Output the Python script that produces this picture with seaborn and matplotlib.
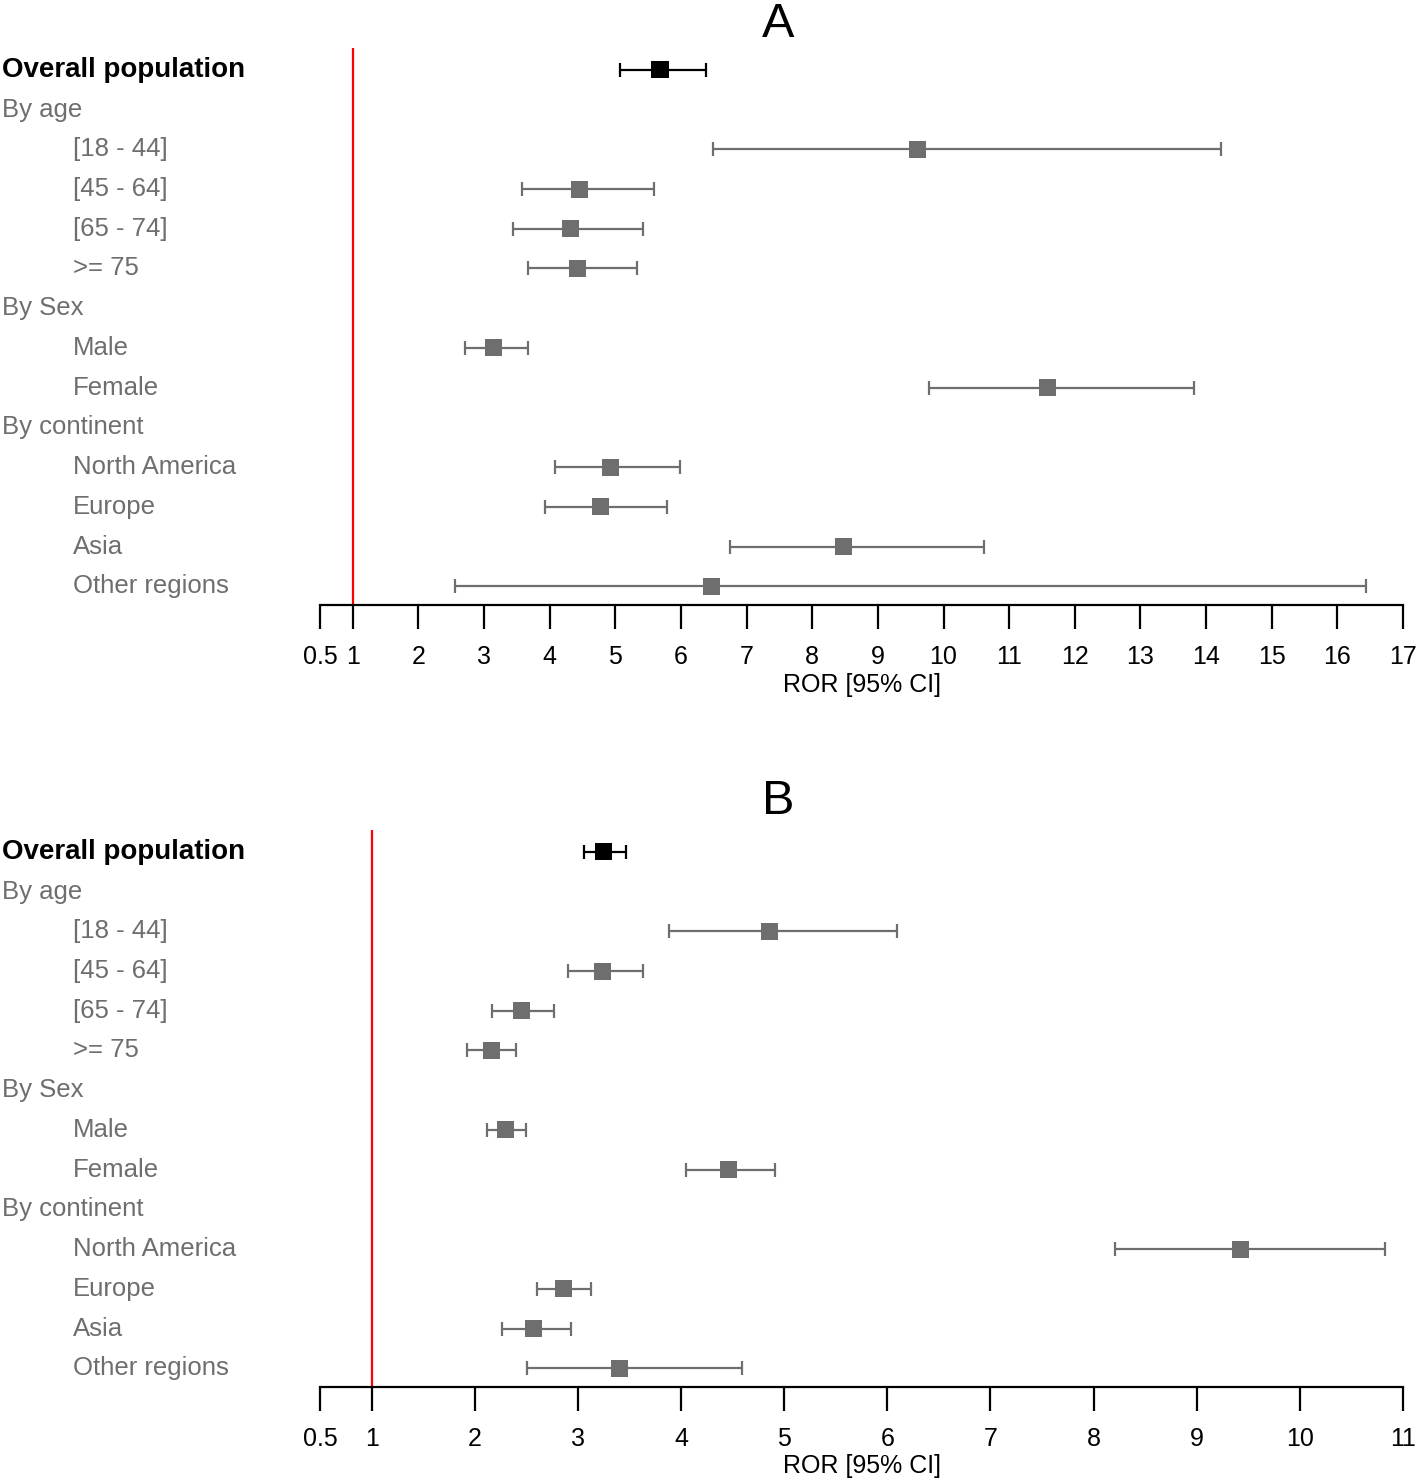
import matplotlib
matplotlib.use("Agg")
import matplotlib.pyplot as plt
import matplotlib.transforms as mtransforms
import seaborn as sns
import numpy as np

# Rótulos das linhas (texto, nível de indentação, tipo)
row_labels = ["Overall population", "By age", "[18 - 44]", "[45 - 64]", "[65 - 74]", ">= 75",
              "By Sex", "Male", "Female", "By continent",
              "North America", "Europe", "Asia", "Other regions"]
row_indent = [0, 0, 1, 1, 1, 1, 0, 1, 1, 0, 1, 1, 1, 1]
row_has_data = [True, False, True, True, True, True, False, True, True, False, True, True, True, True]

# Painel A
ror_a = [5.68, 9.61, 4.46, 4.31, 4.42, 3.15, 11.59, 4.92, 4.77, 8.47, 6.47]
lo_a = [5.07, 6.49, 3.58, 3.44, 3.67, 2.71, 9.78, 4.08, 3.93, 6.75, 2.56]
hi_a = [6.38, 14.23, 5.59, 5.42, 5.33, 3.67, 13.82, 5.98, 5.79, 10.62, 16.44]
ticks_a = [0.5, 1, 2, 3, 4, 5, 6, 7, 8, 9, 10, 11, 12, 13, 14, 15, 16, 17]

# Painel B
ror_b = [3.25, 4.86, 3.24, 2.45, 2.16, 2.30, 4.46, 9.42, 2.86, 2.57, 3.40]
lo_b = [3.06, 3.88, 2.90, 2.17, 1.93, 2.12, 4.05, 8.21, 2.60, 2.26, 2.51]
hi_b = [3.47, 6.09, 3.63, 2.77, 2.40, 2.50, 4.91, 10.83, 3.13, 2.93, 4.59]
ticks_b = [0.5, 1, 2, 3, 4, 5, 6, 7, 8, 9, 10, 11]

sns.set_style("white")
plt.rcParams['font.family'] = ['Liberation Sans', 'DejaVu Sans']

W, H = 1418, 1482
fig = plt.figure(figsize=(W / 100, H / 100), dpi=100)

GRAY = "#6e6e6e"


def forest(top_px, bottom_px, ror, lo, hi, ticks, title, title_y, label_y):
    left_px, right_px = 320, 1403
    ax = fig.add_axes([left_px / W, 1 - bottom_px / H,
                       (right_px - left_px) / W, (bottom_px - top_px) / H])
    ypos = [i for i, d in enumerate(row_has_data) if d]
    colors = ["black"] + [GRAY] * (len(ror) - 1)

    # Intervalos de confiança
    for y, r, l, h, c in zip(ypos, ror, lo, hi, colors):
        ax.errorbar([r], [y], xerr=[[r - l], [h - r]], fmt="none",
                    ecolor=c, elinewidth=1.6, capsize=5, capthick=1.6)

    # Pontos (quadrados)
    sns.scatterplot(x=ror, y=ypos, marker="s", s=150, hue=list(range(len(ror))),
                    palette=colors, edgecolor="none", legend=False, ax=ax, zorder=3)

    ax.axvline(1, color="red", lw=1.6, zorder=1)

    ax.set_xlim(ticks[0], ticks[-1])
    ax.set_ylim(13.47, -0.55)
    ax.set_xticks(ticks)
    ax.set_xticklabels([("%g" % t) for t in ticks], fontsize=18)
    ax.set_yticks([])
    for s in ["top", "left", "right"]:
        ax.spines[s].set_visible(False)
    ax.spines["bottom"].set_linewidth(1.6)
    ax.spines["bottom"].set_color("black")
    ax.tick_params(axis="x", direction="out", length=17, width=1.6, pad=12,
                   colors="black", bottom=True)
    ax.set_xlabel("")

    # Rótulos à esquerda
    trans = mtransforms.blended_transform_factory(fig.transFigure, ax.transData)
    for i, (lab, ind) in enumerate(zip(row_labels, row_indent)):
        x = (2 if ind == 0 else 73) / W
        if i == 0:
            ax.text(x, i, lab, transform=trans, ha="left", va="center",
                    fontsize=20, fontweight="bold", color="black")
        else:
            ax.text(x, i, lab, transform=trans, ha="left", va="center",
                    fontsize=18.5, color=GRAY)

    fig.text(778 / W, 1 - title_y / H, title, ha="center", va="baseline",
             fontsize=35, color="black")
    fig.text(862 / W, 1 - label_y / H, "ROR [95% CI]", ha="center", va="center",
             fontsize=18, color="black")
    return ax


forest(48, 605, ror_a, lo_a, hi_a, ticks_a, "A", 37, 685)
forest(830, 1387, ror_b, lo_b, hi_b, ticks_b, "B", 814, 1466)

fig.savefig("out.png", dpi=100, facecolor="white")
